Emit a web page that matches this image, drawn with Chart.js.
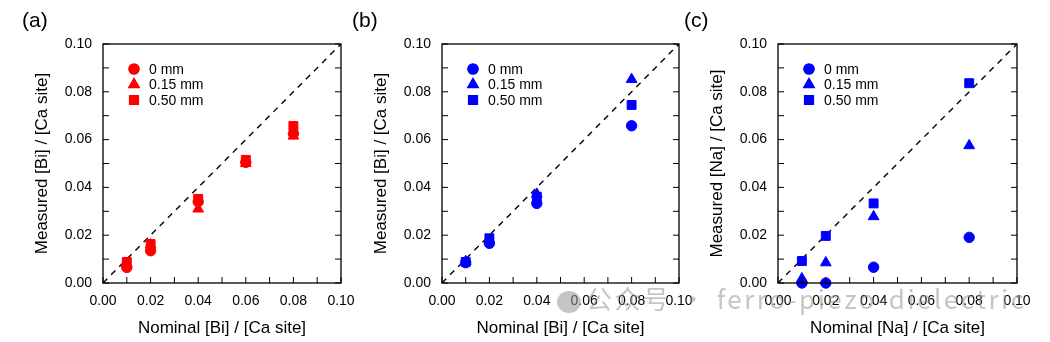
<!DOCTYPE html>
<html>
<head>
<meta charset="utf-8">
<script src="https://cdn.jsdelivr.net/npm/chart.js@4/dist/chart.umd.min.js"></script>
<style>
  html, body { margin: 0; padding: 0; background: #fff; }
  #wrap { position: relative; width: 1050px; height: 342px; overflow: hidden; }
  .panel { position: absolute; top: 0; height: 342px; }
  #watermark {
    position: absolute; left: 557px; top: 280px; height: 36px;
    font-family: "Noto Sans CJK SC", "Liberation Sans", sans-serif;
    font-size: 26px; letter-spacing: 2.5px; color: rgba(150, 150, 150, 0.55);
    white-space: nowrap; line-height: 36px; pointer-events: none;
  }
  #watermark .icon {
    display: inline-block; width: 24px; height: 22px; border-radius: 50%;
    background: rgba(150, 150, 150, 0.55); vertical-align: middle; margin-right: 5px;
  }
</style>
</head>
<body>
<div id="wrap">
  <div class="panel" style="left:0px;width:362px"><canvas id="chartA"></canvas></div>
  <div class="panel" style="left:340px;width:362px"><canvas id="chartB"></canvas></div>
  <div class="panel" style="left:676px;width:374px"><canvas id="chartC"></canvas></div>
  <div id="watermark"><span class="icon"></span>公众号 · ferro-piezo-dielectric</div>
</div>
<script>
// nominal compositions (x)
const nominalA = [0.01, 0.02, 0.04, 0.06, 0.08];
const nominalBC = [0.01, 0.02, 0.04, 0.08];

// (a) measured Bi, red
const biA_0mm = [0.0065, 0.0135, 0.034, 0.0505, 0.0625];
const biA_015mm = [0.008, 0.016, 0.031, 0.050, 0.0615];
const biA_050mm = [0.0088, 0.0163, 0.0352, 0.0515, 0.0657];

// (b) measured Bi, blue
const biB_0mm = [0.0085, 0.0166, 0.0333, 0.0658];
const biB_015mm = [0.009, 0.018, 0.0372, 0.0852];
const biB_050mm = [0.0088, 0.0187, 0.0361, 0.0745];

// (c) measured Na, blue
const naC_0mm = [0.0, 0.0, 0.0066, 0.0191];
const naC_015mm = [0.0018, 0.0085, 0.0278, 0.0575];
const naC_050mm = [0.0092, 0.0197, 0.0333, 0.0836];

const seriesLabels = ['0 mm', '0.15 mm', '0.50 mm'];
const axisMin = 0, axisMax = 0.1;
const minorTicks = [0, 0.01, 0.02, 0.03, 0.04, 0.05, 0.06, 0.07, 0.08, 0.09, 0.1];
const diagonal = [0, 0.1];

const FONT = '"Liberation Sans", Arial, Helvetica, sans-serif';
const markerStyles = [
    { pointStyle: 'circle', radius: 5.2 },
    { pointStyle: 'triangle', radius: 6.2 },
    { pointStyle: 'rect', radius: 6.3 }
];

function toPoints(xs, ys) {
    return xs.map((x, i) => ({ x: x, y: ys[i] }));
}

// frame, inward ticks, legend, panel letter
const decorPlugin = {
    id: 'decor',
    afterDatasetsDraw(chart, args, opts) {
        const { ctx, chartArea: a, scales } = chart;
        const xs = scales.x, ys = scales.y;
        ctx.save();
        ctx.strokeStyle = '#000';
        ctx.lineWidth = 1;
        ctx.beginPath();
        minorTicks.forEach(v => {
            const px = xs.getPixelForValue(v);
            const py = ys.getPixelForValue(v);
            ctx.moveTo(px, a.bottom); ctx.lineTo(px, a.bottom - 6);
            ctx.moveTo(a.left, py); ctx.lineTo(a.left + 6, py);
            ctx.moveTo(a.right, py); ctx.lineTo(a.right - 6, py);
        });
        ctx.stroke();
        ctx.lineWidth = 1.3;
        ctx.strokeRect(a.left, a.top, a.right - a.left, a.bottom - a.top);

        // legend
        ctx.font = '14px ' + FONT;
        ctx.textBaseline = 'middle';
        ctx.textAlign = 'left';
        const rows = [25, 40.5, 56];
        seriesLabels.forEach((label, i) => {
            const y = a.top + rows[i];
            ctx.fillStyle = opts.color;
            ctx.strokeStyle = opts.color;
            Chart.helpers.drawPoint(ctx, {
                pointStyle: markerStyles[i].pointStyle,
                radius: markerStyles[i].radius,
                rotation: 0,
                borderWidth: 1
            }, a.left + 31, y);
            ctx.fillStyle = '#000';
            ctx.fillText(label, a.left + 46, y + 1);
        });

        ctx.font = '21px ' + FONT;
        ctx.fillStyle = '#000';
        ctx.fillText(opts.letter, opts.letterX, 21);
        ctx.restore();
    }
};

function makeChart(id, cfg) {
    const datasets = [{
        type: 'line',
        data: toPoints(diagonal, diagonal),
        borderColor: '#000',
        borderWidth: 1.4,
        borderDash: [6, 5.5],
        pointRadius: 0,
        fill: false,
        order: 10
    }];
    cfg.series.forEach((ys, i) => {
        datasets.push({
            label: seriesLabels[i],
            data: toPoints(cfg.xs, ys),
            pointStyle: markerStyles[i].pointStyle,
            pointRadius: markerStyles[i].radius,
            pointHoverRadius: markerStyles[i].radius,
            backgroundColor: cfg.color,
            borderColor: cfg.color,
            borderWidth: 1,
            clip: false,
            order: 3 - i
        });
    });

    return new Chart(document.getElementById(id), {
        type: 'scatter',
        data: { datasets: datasets },
        options: {
            responsive: false,
            animation: false,
            events: [],
            layout: { padding: { top: 44, right: cfg.rightPad, bottom: 0, left: 0 } },
            plugins: {
                legend: { display: false },
                tooltip: { enabled: false },
                decor: { color: cfg.color, letter: cfg.letter, letterX: cfg.letterX }
            },
            scales: {
                x: {
                    type: 'linear',
                    min: axisMin, max: axisMax,
                    grid: { display: false, drawTicks: false },
                    border: { display: false },
                    ticks: {
                        stepSize: 0.02, padding: 10, color: '#000',
                        font: { family: FONT, size: 14 },
                        maxRotation: 0,
                        callback: v => v.toFixed(2)
                    },
                    title: {
                        display: true, text: cfg.xTitle, color: '#000',
                        font: { family: FONT, size: 17 },
                        padding: { top: 0, bottom: 3 }
                    },
                    afterFit: s => { s.height = 59; s.paddingLeft = 0; s.paddingRight = 0; }
                },
                y: {
                    type: 'linear',
                    min: axisMin, max: axisMax,
                    grid: { display: false, drawTicks: false },
                    border: { display: false },
                    ticks: {
                        stepSize: 0.02, padding: 11, color: '#000',
                        font: { family: FONT, size: 14 },
                        callback: v => v.toFixed(2)
                    },
                    title: {
                        display: true, text: cfg.yTitle, color: '#000',
                        font: { family: FONT, size: 17 },
                        padding: { top: cfg.yTitlePad, bottom: 0 }
                    },
                    afterFit: s => { s.width = cfg.yWidth; s.paddingTop = 0; s.paddingBottom = 0; }
                }
            }
        },
        plugins: [decorPlugin]
    });
}

function sizeCanvas(id, w) {
    const c = document.getElementById(id);
    c.width = w; c.height = 342;
    c.style.width = w + 'px'; c.style.height = '342px';
}
sizeCanvas('chartA', 362);
sizeCanvas('chartB', 362);
sizeCanvas('chartC', 374);

makeChart('chartA', {
    xs: nominalA, series: [biA_0mm, biA_015mm, biA_050mm], color: '#ff0000',
    xTitle: 'Nominal [Bi] / [Ca site]', yTitle: 'Measured [Bi] / [Ca site]',
    yWidth: 103, rightPad: 21, yTitlePad: 32, letter: '(a)', letterX: 22
});
makeChart('chartB', {
    xs: nominalBC, series: [biB_0mm, biB_015mm, biB_050mm], color: '#0000ff',
    xTitle: 'Nominal [Bi] / [Ca site]', yTitle: 'Measured [Bi] / [Ca site]',
    yWidth: 102, rightPad: 23, yTitlePad: 31, letter: '(b)', letterX: 12
});
makeChart('chartC', {
    xs: nominalBC, series: [naC_0mm, naC_015mm, naC_050mm], color: '#0000ff',
    xTitle: 'Nominal [Na] / [Ca site]', yTitle: 'Measured [Na] / [Ca site]',
    yWidth: 102, rightPad: 33, yTitlePad: 31, letter: '(c)', letterX: 8
});
</script>
</body>
</html>
